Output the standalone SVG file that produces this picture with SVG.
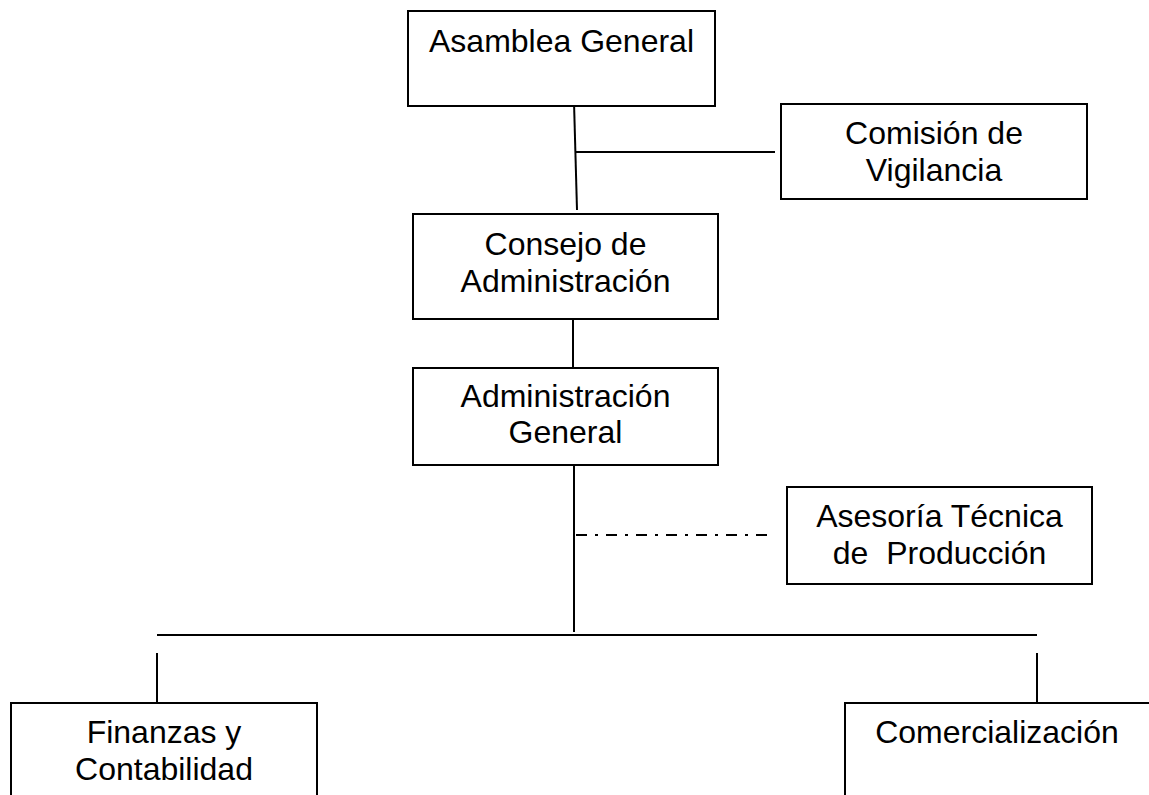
<svg xmlns="http://www.w3.org/2000/svg" width="1149" height="795" viewBox="0 0 1149 795">
  <style>
    .box { fill: #fff; stroke: #000; stroke-width: 2; }
    .lbl { font-family: "Liberation Sans", Arial, sans-serif; font-size: 32px; fill: #000; text-anchor: middle; white-space: pre; }
    .ln { stroke: #000; stroke-width: 2; fill: none; }
    .dd { stroke-dasharray: 11 8 3 8; }
  </style>
  <rect width="1149" height="795" fill="#fff"/>

  <g id="connectors">
    <line class="ln" x1="574" y1="102" x2="577" y2="210"/>
    <line class="ln" x1="576" y1="152" x2="775" y2="152"/>
    <line class="ln" x1="573" y1="319" x2="573" y2="368"/>
    <line class="ln" x1="574" y1="465" x2="574" y2="632"/>
    <line class="ln dd" x1="576" y1="535" x2="775" y2="535"/>
    <line class="ln" x1="157" y1="635" x2="1037" y2="635"/>
    <line class="ln" x1="157" y1="653" x2="157" y2="703"/>
    <line class="ln" x1="1037" y1="653" x2="1037" y2="703"/>
  </g>

  <g id="asamblea">
    <rect class="box" x="408" y="11" width="307" height="95"/>
    <text class="lbl" x="561.5" y="52">Asamblea General</text>
  </g>

  <g id="comision">
    <rect class="box" x="781" y="104" width="306" height="95"/>
    <text class="lbl" x="934" y="144">Comisión de</text>
    <text class="lbl" x="934" y="181">Vigilancia</text>
  </g>

  <g id="consejo">
    <rect class="box" x="413" y="214" width="305" height="105"/>
    <text class="lbl" x="565.5" y="255">Consejo de</text>
    <text class="lbl" x="565.5" y="292">Administración</text>
  </g>

  <g id="administracion">
    <rect class="box" x="413" y="368" width="305" height="97"/>
    <text class="lbl" x="565.5" y="407">Administración</text>
    <text class="lbl" x="565.5" y="443">General</text>
  </g>

  <g id="asesoria">
    <rect class="box" x="787" y="487" width="305" height="97"/>
    <text class="lbl" x="939.5" y="527">Asesoría Técnica</text>
    <text class="lbl" x="939.5" y="564">de  Producción</text>
  </g>

  <g id="finanzas">
    <rect class="box" x="11" y="703" width="306" height="120"/>
    <text class="lbl" x="164" y="743">Finanzas y</text>
    <text class="lbl" x="164" y="780">Contabilidad</text>
  </g>

  <g id="comercializacion">
    <rect class="box" x="845" y="703" width="320" height="120"/>
    <text class="lbl" x="997" y="743">Comercialización</text>
  </g>
</svg>
